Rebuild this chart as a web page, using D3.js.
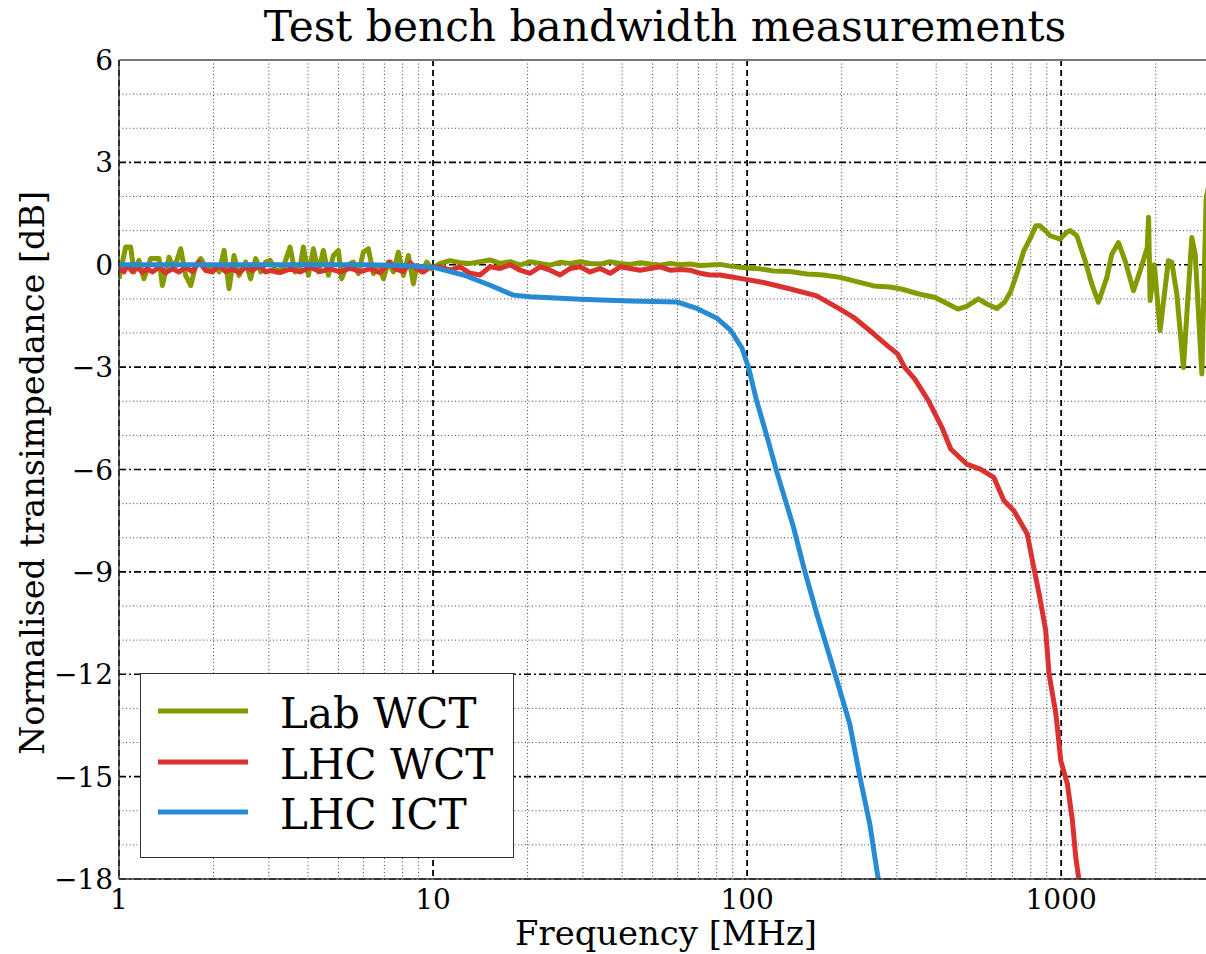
<!DOCTYPE html>
<html>
<head>
<meta charset="utf-8">
<script src="https://cdn.jsdelivr.net/npm/d3@7"></script>
<style>
  html, body { margin: 0; padding: 0; background: #fff; }
  svg { display: block; }
  text { font-family: "DejaVu Serif", serif; fill: #000; }
</style>
</head>
<body>
<svg id="chart" width="1206" height="954"></svg>
<script>
// ---- Data: frequency [MHz] and normalised transimpedance [dB] ----
const labWctFreq = [1.00, 1.050, 1.089, 1.116, 1.158, 1.201, 1.261, 1.341, 1.374, 1.443, 1.497, 1.572, 1.630, 1.692, 1.755, 1.821, 1.888, 1.959, 2.032, 2.083, 2.161, 2.241, 2.324, 2.411, 2.531, 2.626, 2.724, 2.825, 2.930,
  3.027, 3.178, 3.337, 3.504, 3.635, 3.771, 3.865, 4.009, 4.159, 4.314, 4.475, 4.642, 4.815, 4.995, 5.118, 5.310, 5.577, 5.784, 6.000, 6.223, 6.456, 6.699, 6.948, 7.208, 7.478, 7.754, 8.044, 8.346, 8.658, 8.872, 9.204, 9.546, 9.903,
  10.53, 11.33, 12.19, 13.12, 14.11, 15.19, 16.34, 17.59, 18.92, 20.37, 21.91, 23.59, 25.38, 27.31, 29.39, 31.62, 34.03, 36.62, 39.40, 42.40, 45.63, 49.09, 52.84, 56.85, 61.18, 65.83, 70.85, 76.23, 82.04, 88.27, 94.99,
  102, 110, 121, 137, 155, 175, 198, 225, 253, 285, 310, 350, 397, 430, 469, 500, 545, 580, 624, 660, 690, 726, 760, 800, 830, 857, 890, 922, 993, 1040, 1069, 1122, 1192, 1252, 1314, 1398, 1450, 1522, 1598, 1699, 1784, 1852, 1880, 1898, 1920, 1980, 2065, 2195, 2251, 2335, 2451, 2606, 2672, 2805, 2896, 3000];
const labWctDb = [-0.41, 0.52, 0.52, -0.21, 0.13, -0.41, 0.18, 0.18, -0.61, 0.22, -0.12, 0.47, -0.31, -0.61, -0.02, 0.18, -0.07, -0.17, -0.02, -0.21, 0.42, -0.70, 0.27, -0.31, 0.08, -0.41, 0.18, -0.21, 0.08,
  0.13, -0.21, -0.07, 0.52, -0.21, -0.07, 0.52, -0.31, 0.47, -0.21, 0.42, -0.31, 0.27, 0.42, -0.41, -0.02, 0.08, -0.26, 0.37, 0.47, -0.26, -0.02, -0.41, 0.08, -0.21, 0.37, -0.31, 0.27, -0.56, -0.02, -0.21, 0.08, -0.12,
  0.04, 0.12, 0.06, 0.04, 0.09, 0.14, 0.04, 0.09, -0.01, 0.09, 0.04, -0.01, 0.07, 0.04, 0.09, 0.04, 0.02, 0.09, 0.04, 0.01, 0.06, 0.02, -0.01, 0.04, 0.00, 0.02, -0.02, -0.01, 0.01, -0.04, -0.07,
  -0.10, -0.12, -0.18, -0.20, -0.27, -0.30, -0.37, -0.50, -0.62, -0.65, -0.71, -0.85, -0.96, -1.12, -1.30, -1.22, -1.00, -1.15, -1.28, -1.10, -0.80, -0.20, 0.40, 0.80, 1.14, 1.14, 1.00, 0.85, 0.75, 0.95, 1.00, 0.85, 0.12, -0.57, -1.10, -0.37, 0.31, 0.65, 0.12, -0.76, -0.18, 0.31, 0.50, 1.39, -1.05, 0.00, -1.93, 0.12, 0.07, -0.86, -3.01, 0.80, 0.31, -3.20, 1.97, 2.60];

const lhcWctFreq = [1.00, 1.037, 1.063, 1.103, 1.144, 1.187, 1.231, 1.277, 1.341, 1.408, 1.479, 1.553, 1.630, 1.713, 1.798, 1.888, 1.982, 2.083, 2.187, 2.296, 2.411, 2.531, 2.657, 2.791, 2.930,
  3.027, 3.257, 3.504, 3.771, 4.058, 4.367, 4.699, 5.056, 5.441, 5.855, 6.301, 6.781, 7.296, 7.568, 8.044, 8.450, 8.872, 9.316, 9.781,
  10.53, 11.33, 12.19, 13.12, 14.11, 15.19, 16.34, 17.59, 18.92, 20.37, 21.91, 23.59, 25.38, 27.31, 29.39, 31.62, 34.03, 36.62, 39.40, 42.40, 45.63, 49.09, 52.84, 56.85, 61.18, 65.83, 70.85, 76.23, 82.04, 88.27, 94.99,
  112.8, 137.4, 166.6, 197.6, 218.2, 253.4, 279.7, 301.8, 317.4, 342, 377.8, 417.5, 445, 500, 553, 610, 657, 707, 780, 810, 851, 893, 915, 962, 997, 1047, 1086, 1113, 1140, 1170];
const lhcWctDb = [-0.12, -0.21, -0.02, -0.20, -0.07, -0.23, -0.12, -0.21, -0.07, -0.23, -0.12, -0.21, -0.07, -0.20, 0.08, -0.17, -0.21, -0.02, -0.20, -0.12, -0.23, -0.07, -0.17, -0.02, -0.21,
  -0.17, -0.23, -0.12, -0.21, -0.07, -0.20, -0.12, -0.21, -0.10, -0.20, -0.12, -0.23, 0.08, -0.12, -0.20, 0.06, -0.12, -0.21, -0.07,
  -0.06, -0.16, -0.06, -0.25, -0.30, -0.06, -0.11, 0.00, -0.16, -0.25, -0.06, -0.16, -0.30, -0.11, -0.06, -0.21, -0.11, -0.25, -0.06, -0.11, -0.16, -0.11, -0.06, -0.16, -0.14, -0.16, -0.25, -0.30, -0.30, -0.35, -0.40,
  -0.52, -0.71, -0.91, -1.30, -1.54, -2.03, -2.37, -2.62, -3.01, -3.35, -3.98, -4.77, -5.40, -5.84, -5.99, -6.23, -6.91, -7.21, -7.89, -8.67, -9.65, -10.72, -11.99, -13.16, -14.53, -15.22, -16.29, -17.36, -18.05, -19.00];

const lhcIctFreq = [1.0, 2.0, 4.0, 6.0, 8.0, 10.0, 12.5, 15.2, 18.0, 20.4, 29.4, 42.4, 59.7, 69.2, 80.2, 88.4, 96.3, 100.9, 106.9, 116.8, 124.3, 140.0, 152.6, 166.6, 190.3, 202.2, 212.4, 228.4, 245.7, 261.3, 270];
const lhcIctDb = [0.0, 0.0, 0.0, 0.0, -0.02, -0.07, -0.30, -0.60, -0.89, -0.94, -1.01, -1.06, -1.09, -1.28, -1.57, -1.91, -2.44, -2.99, -3.94, -5.17, -6.07, -7.64, -8.98, -10.22, -11.98, -12.80, -13.47, -14.99, -16.38, -17.98, -18.70];

const seriesNames = ["Lab WCT", "LHC WCT", "LHC ICT"];
const seriesColors = ["#859900", "#dc322f", "#268bd2"];

const xMajorTicks = [1, 10, 100, 1000];
const xTickLabels = ["1", "10", "100", "1000"];
const yMajorTicks = [-18, -15, -12, -9, -6, -3, 0, 3, 6];
const yTickLabels = ["\u221218", "\u221215", "\u221212", "\u22129", "\u22126", "\u22123", "0", "3", "6"];

const titleText = "Test bench bandwidth measurements";
const xLabelText = "Frequency [MHz]";
const yLabelText = "Normalised transimpedance [dB]";

(function draw() {
  // ---- Layout ----
  const plotLeft = 119, plotTop = 60, plotBottom = 879, plotRight = 1211;
  const svg = d3.select("#chart");

  const x = d3.scaleLog().domain([1, 3000]).range([plotLeft, plotRight]);
  const y = d3.scaleLinear().domain([-18, 6]).range([plotBottom, plotTop]);

  const series = [
    { name: seriesNames[0], color: seriesColors[0], f: labWctFreq, v: labWctDb },
    { name: seriesNames[1], color: seriesColors[1], f: lhcWctFreq, v: lhcWctDb },
    { name: seriesNames[2], color: seriesColors[2], f: lhcIctFreq, v: lhcIctDb }
  ];

  svg.append("defs").append("clipPath").attr("id", "plotClip")
    .append("rect").attr("x", plotLeft).attr("y", plotTop)
    .attr("width", plotRight - plotLeft).attr("height", plotBottom - plotTop);

  // ---- Grid ----
  const grid = svg.append("g");
  const xMinor = [];
  for (const dec of [1, 10, 100, 1000]) {
    for (let m = 2; m <= 9; m++) { if (dec * m <= 3000) xMinor.push(dec * m); }
  }
  const yMinor = d3.range(-18, 7, 1).filter(v => v % 3 !== 0);

  grid.selectAll(".xminor").data(xMinor).join("line")
    .attr("x1", d => x(d)).attr("x2", d => x(d)).attr("y1", plotTop).attr("y2", plotBottom)
    .attr("stroke", "#444").attr("stroke-width", 1).attr("stroke-dasharray", "1,2.5");
  grid.selectAll(".yminor").data(yMinor).join("line")
    .attr("x1", plotLeft).attr("x2", plotRight).attr("y1", d => y(d)).attr("y2", d => y(d))
    .attr("stroke", "#444").attr("stroke-width", 1).attr("stroke-dasharray", "1,2.5");
  grid.selectAll(".ymajor").data(yMajorTicks).join("line")
    .attr("x1", plotLeft).attr("x2", plotRight).attr("y1", d => y(d)).attr("y2", d => y(d))
    .attr("stroke", "#000").attr("stroke-width", 1.6).attr("stroke-dasharray", "7,3,2,3");
  grid.selectAll(".xmajor").data(xMajorTicks).join("line")
    .attr("x1", d => x(d)).attr("x2", d => x(d)).attr("y1", plotTop).attr("y2", plotBottom)
    .attr("stroke", "#000").attr("stroke-width", 1.8).attr("stroke-dasharray", "6,4");

  // ---- Series lines ----
  const line = d3.line().x(d => x(d[0])).y(d => y(d[1]));
  const plot = svg.append("g").attr("clip-path", "url(#plotClip)");
  series.forEach(s => {
    const pts = s.f.map((f, i) => [f, s.v[i]]);
    plot.append("path").datum(pts)
      .attr("d", line)
      .attr("fill", "none")
      .attr("stroke", s.color)
      .attr("stroke-width", 5)
      .attr("stroke-linejoin", "round")
      .attr("stroke-linecap", "butt");
  });

  // ---- Axes frame ----
  svg.append("line").attr("x1", plotLeft).attr("x2", 1206).attr("y1", plotTop).attr("y2", plotTop)
    .attr("stroke", "#777").attr("stroke-width", 2);
  svg.append("line").attr("x1", plotLeft).attr("x2", 1206).attr("y1", plotBottom).attr("y2", plotBottom)
    .attr("stroke", "#333").attr("stroke-width", 1.5);
  svg.append("line").attr("x1", plotLeft).attr("x2", plotLeft).attr("y1", plotTop).attr("y2", plotBottom)
    .attr("stroke", "#333").attr("stroke-width", 1.5);

  // ---- Tick labels ----
  svg.append("g").selectAll("text").data(xMajorTicks).join("text")
    .attr("x", d => x(d)).attr("y", 909)
    .attr("text-anchor", "middle").attr("font-size", 28)
    .text((d, i) => xTickLabels[i]);
  svg.append("g").selectAll("text").data(yMajorTicks).join("text")
    .attr("x", 113).attr("y", d => y(d) + 10)
    .attr("text-anchor", "end").attr("font-size", 28)
    .text((d, i) => yTickLabels[i]);

  // ---- Titles ----
  svg.append("text").attr("x", 665).attr("y", 41).attr("text-anchor", "middle")
    .attr("font-size", 42.3).text(titleText);
  svg.append("text").attr("x", 666).attr("y", 945).attr("text-anchor", "middle")
    .attr("font-size", 33.8).text(xLabelText);
  svg.append("text").attr("transform", "translate(44,473) rotate(-90)")
    .attr("text-anchor", "middle").attr("font-size", 33.5).text(yLabelText);

  // ---- Legend ----
  const lg = svg.append("g");
  lg.append("rect").attr("x", 140.5).attr("y", 673.5).attr("width", 373).attr("height", 184)
    .attr("fill", "#fff").attr("stroke", "#333").attr("stroke-width", 1);
  const legendRows = [711, 762, 812];
  series.forEach((s, i) => {
    lg.append("line").attr("x1", 158).attr("x2", 248)
      .attr("y1", legendRows[i]).attr("y2", legendRows[i])
      .attr("stroke", s.color).attr("stroke-width", 5);
    lg.append("text").attr("x", 280).attr("y", legendRows[i] + 17)
      .attr("font-size", 42).text(s.name);
  });
})();
</script>
</body>
</html>
